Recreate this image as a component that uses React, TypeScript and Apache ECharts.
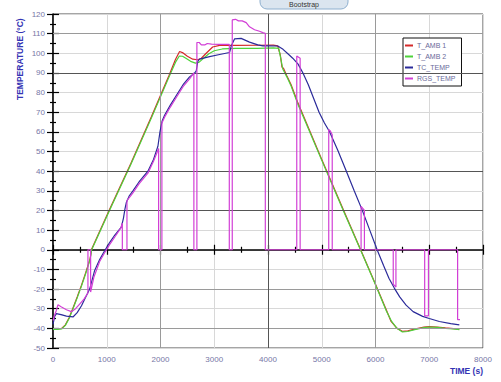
import React, { useEffect, useRef } from "react";
import * as echarts from "echarts";

// Temperature profile samples: [time (s), temperature (°C)]
const tAmb1: [number, number][] = [
  [0, -40.3], [80, -40.3], [160, -40], [230, -38.2], [300, -34.6], [372, -29.6],
  [450, -24], [530, -18], [610, -11.5], [690, -4.5], [720, 0.4], [1060, 21],
  [1450, 44], [1830, 67.7], [2160, 88.8], [2280, 97], [2355, 100.9], [2420, 100.2],
  [2500, 98.5], [2600, 97], [2690, 96.7], [2760, 97.5], [2850, 100], [2970, 103.2],
  [3100, 104], [3400, 104], [3800, 104.1], [4100, 104.2], [4180, 103.8], [4230, 99],
  [4260, 93], [4290, 92.3], [4350, 88.6], [4430, 84], [4550, 75.2], [4678, 67],
  [5000, 46], [5400, 20.5], [5720, 0.3], [6000, -17.5], [6200, -30.5], [6290, -36.5],
  [6400, -40], [6500, -41.5], [6600, -41.3], [6750, -40.3], [6900, -39.4], [7000, -39.1],
  [7150, -39.3], [7300, -39.8], [7450, -40.1], [7560, -40.4],
];

const tAmb2: [number, number][] = [
  [0, -40.5], [80, -40.5], [160, -40.3], [230, -38.5], [300, -35], [372, -30],
  [450, -24.5], [530, -18.5], [610, -12], [690, -5], [720, 0], [1060, 20.5],
  [1450, 43.5], [1830, 67], [2160, 88], [2280, 95.5], [2350, 98.6], [2410, 98.5],
  [2480, 97.3], [2560, 95.9], [2650, 95], [2720, 95.5], [2800, 97.5], [2900, 99.8],
  [3000, 101.3], [3150, 102.2], [3400, 102.5], [3800, 102.5], [4100, 102.8],
  [4200, 102.5], [4240, 97], [4275, 92], [4350, 88], [4430, 83.3], [4550, 74.5],
  [4678, 66.3], [5000, 45.5], [5400, 20], [5720, 0], [6000, -17.8], [6200, -31],
  [6300, -36.5], [6400, -40], [6500, -41.8], [6600, -41.6], [6750, -40.5],
  [6900, -39.6], [7000, -39.3], [7150, -39.5], [7300, -40], [7450, -40.3], [7560, -40.6],
];

const tcTemp: [number, number][] = [
  [0, -38], [30, -34], [63, -32.5], [150, -33], [250, -33.8], [372, -34.2],
  [450, -32], [530, -28.5], [600, -24.5], [682, -20], [775, -10.5], [868, -5],
  [950, -1], [1050, 3.5], [1150, 7.5], [1271, 11.5], [1310, 16], [1340, 21],
  [1364, 24], [1420, 27.5], [1487, 30], [1600, 34.5], [1766, 40], [1870, 46],
  [1952, 52.7], [1990, 60], [2030, 65.5], [2076, 68.5], [2180, 73.5], [2294, 78.5],
  [2420, 84], [2541, 88], [2630, 89.8], [2665, 91], [2695, 96], [2727, 97],
  [2913, 98.3], [3100, 99.4], [3284, 100.4], [3320, 104], [3377, 107.3], [3500, 107.6],
  [3656, 105.7], [3810, 104.3], [3903, 103.8], [4000, 103.8], [4182, 103.7],
  [4280, 102], [4380, 99.5], [4460, 97.5], [4560, 94.5], [4650, 90], [4750, 84],
  [4850, 77], [4950, 70], [5050, 64.5], [5143, 60.2], [5300, 50.5], [5450, 40.5],
  [5600, 30.3], [5751, 20.3], [5900, 9.5], [6030, 0], [6150, -8], [6250, -14.5],
  [6350, -19.5], [6450, -24], [6569, -28.2], [6700, -31.5], [6877, -33.9],
  [7000, -35], [7188, -36.5], [7400, -37.6], [7560, -38.2],
];

const rgsTemp: [number, number][] = [
  [0, -36], [20, -34], [60, -31], [93, -28], [150, -29], [250, -30.5], [342, -31.5],
  [420, -30], [500, -27.5], [580, -25], [650, -22], [650, 0], [700, 0], [700, -21.5],
  [760, -14], [868, -6], [950, -2], [1050, 2.5], [1150, 6.5], [1260, 11], [1290, 13.5],
  [1290, 0], [1376, 0], [1376, 25], [1487, 29], [1600, 33.5], [1766, 39], [1870, 45],
  [1965, 51.5], [1965, 0], [2026, 0], [2026, 64.5], [2076, 67.5], [2180, 72.5],
  [2294, 77.5], [2420, 83], [2541, 87], [2621, 90], [2621, 0], [2677, 0], [2677, 105.5],
  [2720, 105.5], [2760, 104.3], [2830, 104.3], [2870, 105], [2950, 104.7], [3100, 104.5],
  [3280, 104.5], [3280, 0], [3335, 0], [3335, 117], [3396, 117.3], [3450, 116.5],
  [3520, 116.5], [3594, 115.6], [3656, 113.5], [3750, 112], [3842, 111.2], [3903, 110.5],
  [3950, 110.2], [3950, 0], [4535, 0], [4535, 98.6], [4598, 97.5], [4598, 0],
  [5130, 0], [5130, 61.2], [5160, 60.5], [5195, 58.5], [5195, 0], [5732, 0],
  [5732, 22.1], [5794, 20], [5794, 0], [6330, 0], [6330, -17.5], [6380, -19],
  [6380, 0], [6915, 0], [6915, -33.6], [6985, -33.6], [6985, 0], [7528, 0],
  [7528, -35.6], [7572, -35.6],
];

const seriesNames = ["T_AMB 1", "T_AMB 2", "TC_TEMP", "RGS_TEMP"];
const seriesColors = ["#d42a2a", "#4ed23a", "#2b2b9a", "#d23fd6"];

// Grid lines drawn heavier than the regular split lines
const darkYLines = [90, 40, 20];
const midYLines = [110, -20, -40];
const darkXLines = [4000];
const midXLines = [2000, 6000];

const labelColor = "#7676a6";
const font = "'Liberation Sans', Arial, sans-serif";

export default function App() {
  const ref = useRef<HTMLDivElement>(null);

  useEffect(() => {
    if (!ref.current) return;
    const chart = echarts.init(ref.current, undefined, { renderer: "svg" });

    const baseX = {
      type: "value" as const,
      min: 0,
      max: 8000,
      interval: 1000,
    };
    const baseY = {
      type: "value" as const,
      min: -50,
      max: 120,
      interval: 10,
    };

    const markData: any[] = [
      ...darkYLines.map((v) => ({ yAxis: v, lineStyle: { color: "#555", width: 1, type: "solid" } })),
      ...midYLines.map((v) => ({ yAxis: v, lineStyle: { color: "#9a9a9a", width: 1, type: "solid" } })),
      ...darkXLines.map((v) => ({ xAxis: v, lineStyle: { color: "#555", width: 1, type: "solid" } })),
      ...midXLines.map((v) => ({ xAxis: v, lineStyle: { color: "#9a9a9a", width: 1, type: "solid" } })),
    ];

    const dataSets = [tAmb1, tAmb2, tcTemp, rgsTemp];
    const plain = (v: number) => String(v);

    chart.setOption({
      animation: false,
      backgroundColor: "#ffffff",
      textStyle: { fontFamily: font },
      grid: {
        left: 53,
        top: 14,
        right: 18,
        bottom: 34,
        show: true,
        borderColor: "#4a4a4a",
        borderWidth: 1,
        backgroundColor: "transparent",
      },
      legend: {
        data: seriesNames,
        orient: "vertical",
        left: 403,
        top: 38,
        icon: "rect",
        itemWidth: 8,
        itemHeight: 2,
        itemGap: 4,
        padding: [4, 6, 4, 2],
        borderColor: "#111",
        borderWidth: 1,
        backgroundColor: "#fff",
        selectedMode: false,
        textStyle: { fontSize: 7, color: "#6a6a9a", fontFamily: font, padding: [0, 0, 0, -1] },
      },
      xAxis: [
        {
          ...baseX,
          axisLine: { show: true, lineStyle: { color: "#000", width: 1.5 } },
          axisTick: { show: true, length: 5, lineStyle: { color: "#000", width: 1.2 } },
          minorTick: { show: true, splitNumber: 2, length: 3, lineStyle: { color: "#000", width: 1.2 } },
          axisLabel: { color: labelColor, fontSize: 8, margin: 7, fontFamily: font, formatter: plain },
          splitLine: { show: true, lineStyle: { color: "#d8d8d8", width: 1 } },
        },
        {
          ...baseX,
          position: "bottom",
          axisLine: { show: false },
          axisTick: { show: true, inside: true, length: 5, lineStyle: { color: "#000", width: 1.2 } },
          minorTick: { show: true, splitNumber: 2, length: 3, lineStyle: { color: "#000", width: 1.2 } },
          axisLabel: { show: false },
          splitLine: { show: false },
        },
      ],
      yAxis: [
        {
          ...baseY,
          axisLine: { show: true, lineStyle: { color: "#000", width: 1.5 } },
          axisTick: { show: true, length: 6, lineStyle: { color: "#000", width: 1.2 } },
          minorTick: { show: true, splitNumber: 2, length: 3, lineStyle: { color: "#000", width: 1.2 } },
          axisLabel: { color: labelColor, fontSize: 8, margin: 8, fontFamily: font, formatter: plain },
          splitLine: { show: true, lineStyle: { color: "#d8d8d8", width: 1 } },
        },
        {
          ...baseY,
          position: "left",
          offset: 0,
          axisLine: { show: false },
          axisTick: { show: true, inside: true, length: 6, lineStyle: { color: "#000", width: 1.2 } },
          minorTick: { show: true, splitNumber: 2, length: 3, lineStyle: { color: "#000", width: 1.2 } },
          axisLabel: { show: false },
          splitLine: { show: false },
        },
      ],
      series: [
        {
          name: "grid-major",
          type: "line",
          data: [],
          silent: true,
          markLine: {
            silent: true,
            symbol: ["none", "none"],
            label: { show: false },
            animation: false,
            data: markData,
          },
        },
        ...dataSets.map((d, i) => ({
          name: seriesNames[i],
          type: "line",
          data: d,
          showSymbol: false,
          symbol: "none",
          color: seriesColors[i],
          lineStyle: { color: seriesColors[i], width: 1.2 },
          z: 3 + i,
        })),
      ],
      graphic: [
        {
          type: "rect",
          shape: { x: 260, y: -12, width: 88, height: 21, r: 7 },
          style: { fill: "#dbe5ef", stroke: "#8fb0cf", lineWidth: 1 },
          z: 10,
        },
        {
          type: "text",
          x: 304,
          y: 8,
          style: {
            text: "Bootstrap",
            fill: "#333",
            fontSize: 7,
            fontFamily: font,
            textAlign: "center",
            textVerticalAlign: "bottom",
          },
          z: 11,
        },
        {
          type: "text",
          x: 20,
          y: 100,
          rotation: Math.PI / 2,
          style: {
            text: "TEMPERATURE (°C)",
            fill: "#3434b4",
            fontSize: 8.5,
            fontWeight: "bold",
            fontFamily: font,
            textAlign: "left",
            textVerticalAlign: "middle",
          },
        },
        {
          type: "text",
          x: 483,
          y: 371,
          style: {
            text: "TIME (s)",
            fill: "#3434b4",
            fontSize: 8.5,
            fontWeight: "bold",
            fontFamily: font,
            textAlign: "right",
            textVerticalAlign: "middle",
          },
        },
      ],
    });

    return () => chart.dispose();
  }, []);

  return (
    <div
      ref={ref}
      style={{ position: "fixed", left: 0, top: 0, width: 501, height: 382, background: "#fff" }}
    />
  );
}
